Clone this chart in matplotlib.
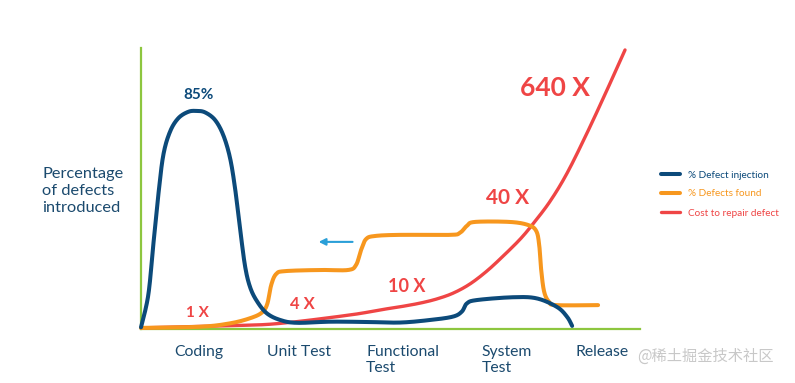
import numpy as np
import matplotlib
matplotlib.use("Agg")
import matplotlib.pyplot as plt

plt.rcParams['font.family'] = ['Lato', 'DejaVu Sans']

# ---- data (x: progress 0-100, y: percent 0-100) ----
inj_x = [0, 1.46, 2.46, 3.47, 4.47, 5.81, 7.47, 9.48, 11.16, 12.83, 14.83, 16.49, 17.84,
         18.84, 19.84, 20.84, 21.84, 23.2, 25.2, 27.9, 31.2,
         37.9, 45.3, 51.9, 57.9, 62.5, 64.3, 65.3, 67.3, 74.5, 79.3, 83.4, 85.4, 86.4]
inj_y = [0.6, 12.1, 29.9, 47.7, 61.9, 70.2, 75.0, 77.3, 77.6, 77.1, 74.4, 69.0, 60.9,
         50.2, 35.9, 22.5, 15.0, 10.0, 5.6, 3.2, 2.2,
         2.6, 2.5, 2.3, 3.2, 4.4, 6.2, 9.1, 10.3, 11.3, 10.9, 7.8, 4.3, 1.1]

found_x = [0, 11.8, 17.8, 21.8, 24.2, 25.3, 26.1, 27.1, 28.9, 35.9, 41.5, 43.1, 44.1, 45.1,
           46.9, 51.9, 61.9, 63.9, 65.3, 66.9, 73.9, 77.6, 79.2, 79.8, 80.2, 80.8, 81.8,
           83.2, 91.6]
found_y = [0.4, 0.8, 2.0, 3.8, 5.8, 8.9, 15.7, 19.6, 20.6, 21.0, 21.0, 22.8, 28.1, 32.0,
           33.1, 33.5, 33.5, 34.2, 36.7, 38.1, 38.1, 37.0, 34.9, 29.9, 21.0, 13.2, 9.6,
           8.5, 8.5]

cost_x = [0, 18.4, 27.9, 41.9, 47.9, 51.9, 55.9, 59.3, 62.6, 65.9, 69.3, 72.6, 76.0, 78.6,
          82.0, 85.4, 89.4, 93.4, 97.0]
cost_y = [0.4, 1.2, 2.0, 5.0, 6.8, 7.9, 9.2, 10.7, 12.8, 16.0, 20.6, 26.0, 32.0, 37.5,
          45.5, 55.5, 69.8, 85.1, 99.3]

stage_labels = ["Coding", "Unit Test", "Functional\nTest", "System\nTest", "Release"]
stage_x = [6.6, 25.3, 45.1, 68.3, 87.0]

cost_labels = ["1 X", "4 X", "10 X", "40 X", "640 X"]
cost_label_x = [11.4, 32.3, 53.3, 73.5, 83.0]
cost_label_y = [5.7, 8.9, 15.3, 46.6, 85.8]
cost_label_size = [11, 12, 13, 15, 19]

peak_label = "85%"
peak_x, peak_y = 11.6, 83.3

series_names = ["% Defect injection", "% Defects found", "Cost to repair defect"]

BLUE = "#0c4a7a"
ORANGE = "#f7971e"
RED = "#ef4545"
GREEN = "#8dc63f"
TXT = "#1b4a6e"


def smooth(x, y, n=20):
    x = np.asarray(x, float); y = np.asarray(y, float)
    P = np.column_stack([x, y])
    P = np.vstack([P[0], P, P[-1]])
    out = []
    for i in range(1, len(P) - 2):
        p0, p1, p2, p3 = P[i - 1], P[i], P[i + 1], P[i + 2]
        t = np.linspace(0, 1, n, endpoint=False)[:, None]
        pts = 0.5 * ((2 * p1) + (-p0 + p2) * t + (2 * p0 - 5 * p1 + 4 * p2 - p3) * t ** 2
                     + (-p0 + 3 * p1 - 3 * p2 + p3) * t ** 3)
        out.append(pts)
    out.append(P[-2][None, :])
    o = np.vstack(out)
    return o[:, 0], o[:, 1]


fig = plt.figure(figsize=(7.95, 3.83), dpi=100)
ax = fig.add_axes([141 / 795, 54 / 383, 499 / 795, 281 / 383])
ax.set_xlim(0, 100)
ax.set_ylim(0, 100)

for s in ["top", "right"]:
    ax.spines[s].set_visible(False)
for s in ["left", "bottom"]:
    ax.spines[s].set_color(GREEN)
    ax.spines[s].set_linewidth(1.6)
ax.set_xticks([]); ax.set_yticks([])

sx, sy = smooth(cost_x, cost_y)
ax.plot(sx, sy, color=RED, lw=2.4, solid_capstyle='round', label=series_names[2], zorder=3, clip_on=False)
sx, sy = smooth(found_x, found_y)
ax.plot(sx, sy, color=ORANGE, lw=2.9, solid_capstyle='round', label=series_names[1], zorder=4, clip_on=False)
sx, sy = smooth(inj_x, inj_y)
ax.plot(sx, sy, color=BLUE, lw=2.9, solid_capstyle='round', label=series_names[0], zorder=5, clip_on=False)

for lab, x in zip(stage_labels, stage_x):
    ax.text(x, -5.6, lab, ha='left', va='top', fontsize=11.3, color=TXT, linespacing=1.25,
            clip_on=False)

for lab, x, y, fs in zip(cost_labels, cost_label_x, cost_label_y, cost_label_size):
    ax.text(x, y, lab, ha='center', va='center', fontsize=fs, color=RED, fontweight='bold')

ax.text(peak_x, peak_y, peak_label, ha='center', va='center', fontsize=11, color=BLUE,
        fontweight='bold')

ax.annotate("", xy=(35.6, 31), xytext=(42.4, 31),
            arrowprops=dict(arrowstyle='-|>', color="#2a9fd8", lw=1.5,
                            mutation_scale=10, shrinkA=0, shrinkB=0))

fig.text(42 / 795, 1 - 191 / 383, "Percentage\nof defects\nintroduced", ha='left', va='center',
         fontsize=11.8, color=TXT, linespacing=1.25)

h, l = ax.get_legend_handles_labels()
order = [2, 1, 0]
leg = fig.legend([h[i] for i in order], [l[i] for i in order], loc='center left',
                 bbox_to_anchor=(652 / 795, 1 - 194 / 383), frameon=False, fontsize=7.2,
                 handlelength=1.9, handletextpad=0.8, labelspacing=1.0, labelcolor='linecolor')

fig.text(637 / 795, 1 - 356 / 383, "@稀土掘金技术社区", ha='left', va='center', fontsize=11,
         color="#c8c8c8", family=['Noto Sans CJK SC', 'DejaVu Sans'])

fig.savefig("out.png", dpi=100)
